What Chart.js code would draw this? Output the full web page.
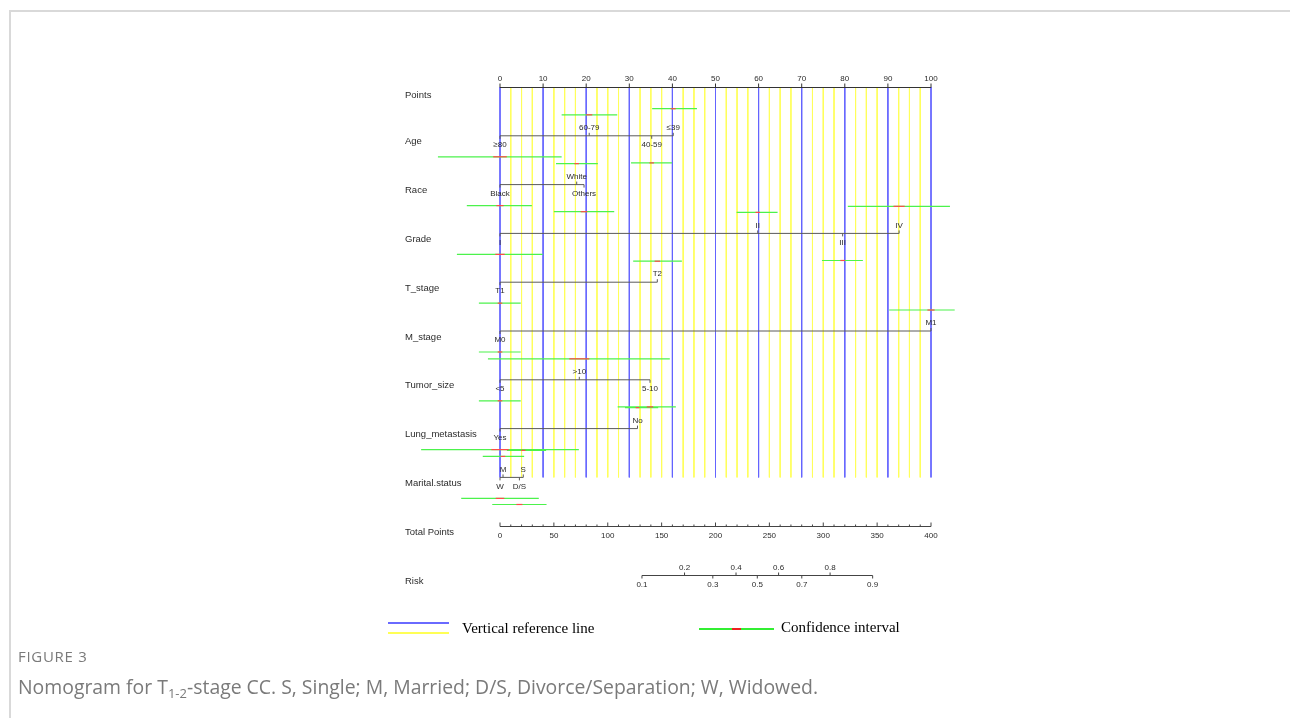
<!DOCTYPE html>
<html>
<head>
<meta charset="utf-8">
<title>Nomogram for T1-2-stage CC</title>
<script src="https://cdn.jsdelivr.net/npm/chart.js@4/dist/chart.umd.min.js"></script>
<style>
  html, body { margin: 0; padding: 0; background: #fff; width: 1290px; height: 718px; overflow: hidden; }
  #frame { position: absolute; left: 9px; top: 10px; width: 1290px; height: 720px;
           border-left: 2px solid #d9d9d9; border-top: 2px solid #d9d9d9; }
  #nomo { position: absolute; left: 0; top: 0; }
  .cap { position: absolute; left: 18px; font-family: "Open Sans", "Noto Sans", sans-serif; color: #7a7a7a; white-space: nowrap; }
  #figno { top: 646px; font-size: 15px; letter-spacing: 0.7px; }
  #figtxt { top: 673px; font-size: 19.4px; }
  #figtxt sub { font-size: 13px; vertical-align: -4px; line-height: 0; }
</style>
</head>
<body>
<div id="frame"></div>
<canvas id="nomo" width="1290" height="718"></canvas>
<div class="cap" id="figno">FIGURE 3</div>
<div class="cap" id="figtxt">Nomogram for T<sub>1-2</sub>-stage CC. S, Single; M, Married; D/S, Divorce/Separation; W, Widowed.</div>
<script>
// ---- model values (points scale 0-100) ----
const rowNames = ['Points', 'Age', 'Race', 'Grade', 'T_stage', 'M_stage', 'Tumor_size',
                  'Lung_metastasis', 'Marital.status', 'Total Points', 'Risk'];

const ageLevels = ['≥80', '60-79', '40-59', '≤39'];
const agePoints = [0, 20.7, 35.2, 40.2];
const ageLow    = [-14.4, 14.3, 30.4, 35.3];
const ageHigh   = [14.3, 27.2, 39.9, 45.7];

const raceLevels = ['Black', 'White', 'Others'];
const racePoints = [0, 17.8, 19.5];
const raceLow    = [-7.7, 13.0, 12.5];
const raceHigh   = [7.4, 22.7, 26.5];

const gradeLevels = ['I', 'II', 'III', 'IV'];
const gradePoints = [0, 59.8, 79.5, 92.6];
const gradeLow    = [-10.0, 54.9, 74.7, 80.7];
const gradeHigh   = [9.9, 64.4, 84.2, 104.4];

const tStageLevels = ['T1', 'T2'];
const tStagePoints = [0, 36.5];
const tStageLow    = [-4.9, 30.9];
const tStageHigh   = [4.8, 42.2];

const mStageLevels = ['M0', 'M1'];
const mStagePoints = [0, 100];
const mStageLow    = [-4.9, 90.3];
const mStageHigh   = [4.8, 105.5];

const tumorLevels = ['<5', '>10', '5-10'];
const tumorPoints = [0, 18.4, 34.8];
const tumorLow    = [-4.9, -2.8, 27.3];
const tumorHigh   = [4.8, 39.4, 40.8];

const lungLevels = ['Yes', 'No'];
const lungPoints = [0, 31.9];
const lungLow    = [-18.3, 29.0];
const lungHigh   = [18.3, 36.7];

const maritalLevels = ['W', 'M', 'D/S', 'S'];
const maritalPoints = [0, 0.7, 4.5, 5.4];
const maritalLow    = [-9.0, -4.0, -1.8, 1.6];
const maritalHigh   = [9.0, 5.6, 10.8, 10.7];

const pointsTicks = [0, 10, 20, 30, 40, 50, 60, 70, 80, 90, 100];
const totalPointsTicks = [0, 50, 100, 150, 200, 250, 300, 350, 400];
const riskTicks = [0.1, 0.2, 0.3, 0.4, 0.5, 0.6, 0.7, 0.8, 0.9];

// logistic link: total points at 50% risk, and total points per logit unit
const riskMidPoints = 238.8;
const pointsPerLogit = 48.72;

const variables = [
  { levels: ageLevels,     pts: agePoints,     lo: ageLow,     hi: ageHigh },
  { levels: raceLevels,    pts: racePoints,    lo: raceLow,    hi: raceHigh },
  { levels: gradeLevels,   pts: gradePoints,   lo: gradeLow,   hi: gradeHigh },
  { levels: tStageLevels,  pts: tStagePoints,  lo: tStageLow,  hi: tStageHigh },
  { levels: mStageLevels,  pts: mStagePoints,  lo: mStageLow,  hi: mStageHigh },
  { levels: tumorLevels,   pts: tumorPoints,   lo: tumorLow,   hi: tumorHigh },
  { levels: lungLevels,    pts: lungPoints,    lo: lungLow,    hi: lungHigh },
  { levels: maritalLevels, pts: maritalPoints, lo: maritalLow, hi: maritalHigh }
];

// ---- styling ----
const BLUE = '#6464ff', YELLOW = '#ffff5a', GREEN = '#4cf24c', RED = '#ff4a4a', AXIS = '#5a5a5a';
const NEAR = 0.43, FAR = 0.555;        // interval offsets from a variable axis, in rows
const CENTER_FRACTION = 0.055;         // half-width of the highlighted centre, share of interval

// even-indexed levels are labelled below the axis, odd-indexed above
function sideOf(i) { return i % 2 === 0 ? 1 : -1; }
function tierOf(i) { return i < 2 ? NEAR : FAR; }

function seg(x0, x1, y, color, order, width) {
  return {
    data: [{ x: x0, y: y }, { x: x1, y: y }],
    showLine: true, borderColor: color, backgroundColor: color,
    borderWidth: width || 1, pointRadius: 0, clip: false, order: order
  };
}

const datasets = [];
// vertical reference lines every 2.5 points from the Points axis to the last predictor
for (let k = 0; k <= 40; k++) {
  const v = k * 2.5;
  const major = k % 4 === 0;
  datasets.push({
    data: [{ x: v, y: 0 }, { x: v, y: 8 }],
    showLine: true, borderColor: major ? BLUE : YELLOW, borderWidth: 1,
    pointRadius: 0, clip: false, order: major ? 4 : 5
  });
}
variables.forEach((vr, r) => {
  const row = r + 1;
  datasets.push(seg(Math.min(...vr.pts), Math.max(...vr.pts), row, AXIS, 2));
  vr.levels.forEach((lv, i) => {
    const yy = row + sideOf(i) * tierOf(i);
    datasets.push(seg(vr.lo[i], vr.hi[i], yy, GREEN, 1, 1.2));
    const h = CENTER_FRACTION * (vr.hi[i] - vr.lo[i]);
    datasets.push(seg(vr.pts[i] - h, vr.pts[i] + h, yy, RED, 0, 1.2));
  });
});

const LABEL_FONT = '9.5px "Liberation Sans", Arial, sans-serif';
const TICK_FONT = '8px "Liberation Sans", Arial, sans-serif';
const LEGEND_FONT = '15px "Liberation Serif", "Times New Roman", serif';

const nomogramPlugin = {
  id: 'nomogram',
  afterDraw(chart) {
    const { ctx, scales: { x, y } } = chart;
    const px = v => x.getPixelForValue(v);
    const py = r => y.getPixelForValue(r);
    const totalPx = t => px(t / 4);
    const riskPx = p => totalPx(riskMidPoints + pointsPerLogit * Math.log(p / (1 - p)));

    ctx.save();

    const hline = (x0, x1, yy, col, w) => {
      ctx.lineWidth = w || 1;
      ctx.strokeStyle = col; ctx.beginPath();
      ctx.moveTo(x0, yy); ctx.lineTo(x1, yy); ctx.stroke();
    };
    const vtick = (xx, yy, len, col) => {
      ctx.lineWidth = 1;
      ctx.strokeStyle = col; ctx.beginPath();
      ctx.moveTo(xx, yy); ctx.lineTo(xx, yy + len); ctx.stroke();
    };
    const text = (s, xx, yy, font, align, col) => {
      ctx.font = font; ctx.fillStyle = col || '#2b2b2b';
      ctx.textAlign = align || 'center'; ctx.textBaseline = 'middle';
      ctx.fillText(s, xx, yy);
    };

    // row names
    const nameX = chart.chartArea.left - 95;
    rowNames.forEach((nm, r) => text(nm, nameX, py(r) + (r === 0 ? 8 : 6), LABEL_FONT, 'left'));

    // Points axis
    const y0 = Math.round(py(0)) + 0.5;
    hline(px(0), px(100), y0, '#333');
    pointsTicks.forEach(v => {
      vtick(px(v), y0, -4, '#333');
      text(String(v), px(v), y0 - 9, TICK_FONT);
    });

    // predictor level ticks and labels
    variables.forEach((vr, r) => {
      const yy = py(r + 1);
      vr.levels.forEach((lv, i) => {
        const s = sideOf(i);
        vtick(px(vr.pts[i]), yy, 3 * s, AXIS);
        text(lv, px(vr.pts[i]), yy + (s > 0 ? 9 : -8), TICK_FONT);
      });
    });

    // Total Points axis
    const yt = Math.round(py(9)) + 0.5;
    hline(totalPx(0), totalPx(400), yt, '#444');
    for (let t = 0; t <= 400; t += 10) vtick(totalPx(t), yt, t % 50 === 0 ? -4 : -2, '#444');
    totalPointsTicks.forEach(t => text(String(t), totalPx(t), yt + 9, TICK_FONT));

    // Risk axis
    const yr = Math.round(py(10)) + 0.5;
    hline(riskPx(riskTicks[0]), riskPx(riskTicks[riskTicks.length - 1]), yr, '#444');
    riskTicks.forEach((p, i) => {
      const s = i % 2 === 0 ? 1 : -1;
      vtick(riskPx(p), yr, 3 * s, '#444');
      text(p.toFixed(1), riskPx(p), yr + (s > 0 ? 9 : -8), TICK_FONT);
    });

    // legend
    const ly = chart.chartArea.bottom + 54;
    hline(388, 449, ly - 6, '#6a6aff', 2);
    hline(388, 449, ly + 4, '#ffff55', 2);
    text('Vertical reference line', 462, ly, LEGEND_FONT, 'left', '#000');
    hline(699, 774, ly, '#33ee33', 2);
    hline(732, 741, ly, '#ee2020', 2);
    text('Confidence interval', 781, ly - 1, LEGEND_FONT, 'left', '#000');

    ctx.restore();
  }
};

new Chart(document.getElementById('nomo'), {
  type: 'scatter',
  data: { datasets: datasets },
  options: {
    responsive: false,
    animation: false,
    events: [],
    layout: { padding: { left: 500, right: 359, top: 87, bottom: 143 } },
    scales: {
      x: { type: 'linear', min: 0, max: 100, display: false },
      y: { type: 'linear', min: 0, max: 10, reverse: true, display: false }
    },
    plugins: { legend: { display: false }, tooltip: { enabled: false } },
    elements: { point: { radius: 0 }, line: { tension: 0 } }
  },
  plugins: [nomogramPlugin]
});
</script>
</body>
</html>
